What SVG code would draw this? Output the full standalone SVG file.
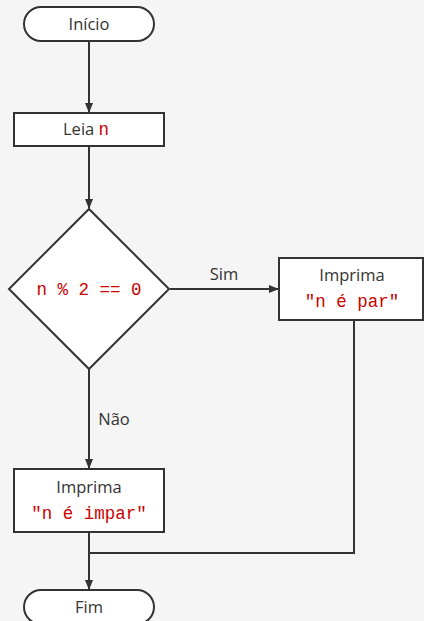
<svg xmlns="http://www.w3.org/2000/svg" width="424" height="621" viewBox="0 0 424 621">
<style>
.bg{fill:#f5f5f5}
.n{fill:#fff;stroke:#333;stroke-width:2}
.c{fill:none;stroke:#333;stroke-width:2}
.t{font-family:"Open Sans","DejaVu Sans",sans-serif;font-size:16.5px;fill:#333;text-anchor:middle}
.m{font-family:"Liberation Mono","DejaVu Sans Mono",monospace;font-size:17.5px;fill:#c00;text-anchor:middle}
</style>
<defs>
<marker id="ah" markerWidth="10" markerHeight="10" refX="9" refY="5" orient="auto" markerUnits="userSpaceOnUse">
<path d="M0,1 L10,5 L0,9 Z" fill="#333"/>
</marker>
</defs>
<rect class="bg" x="0" y="0" width="424" height="621"/>
<g id="connectors">
<line class="c" x1="89" y1="41" x2="89" y2="112" marker-end="url(#ah)"/>
<line class="c" x1="89" y1="146" x2="89" y2="208" marker-end="url(#ah)"/>
<line class="c" x1="170" y1="289" x2="278" y2="289" marker-end="url(#ah)"/>
<text class="t" x="224" y="280">Sim</text>
<line class="c" x1="89" y1="369" x2="89" y2="468" marker-end="url(#ah)"/>
<text class="t" x="114" y="425">Não</text>
<polyline class="c" points="354,320 354,553 89,553"/>
<line class="c" x1="89" y1="532" x2="89" y2="589" marker-end="url(#ah)"/>
</g>
<g id="inicio">
<rect class="n" x="24" y="7" width="130" height="34" rx="17"/>
<text class="t" x="89" y="30">Início</text>
</g>
<g id="leia">
<rect class="n" x="14" y="113" width="150" height="33"/>
<text x="63" y="135" class="t" style="text-anchor:start">Leia <tspan class="m" style="text-anchor:start">n</tspan></text>
</g>
<g id="decisao">
<polygon class="n" points="89,209 169,289 89,369 9,289"/>
<text class="m" x="89" y="295">n % 2 == 0</text>
</g>
<g id="par">
<rect class="n" x="279" y="258" width="144" height="62"/>
<text class="t" x="352" y="281">Imprima</text>
<text class="m" x="352" y="307">"n é par"</text>
</g>
<g id="impar">
<rect class="n" x="14" y="469" width="150" height="63"/>
<text class="t" x="89" y="493">Imprima</text>
<text class="m" x="89" y="519">"n é impar"</text>
</g>
<g id="fim">
<rect class="n" x="24" y="590" width="130" height="34" rx="17"/>
<text class="t" x="89" y="613">Fim</text>
</g>
</svg>
